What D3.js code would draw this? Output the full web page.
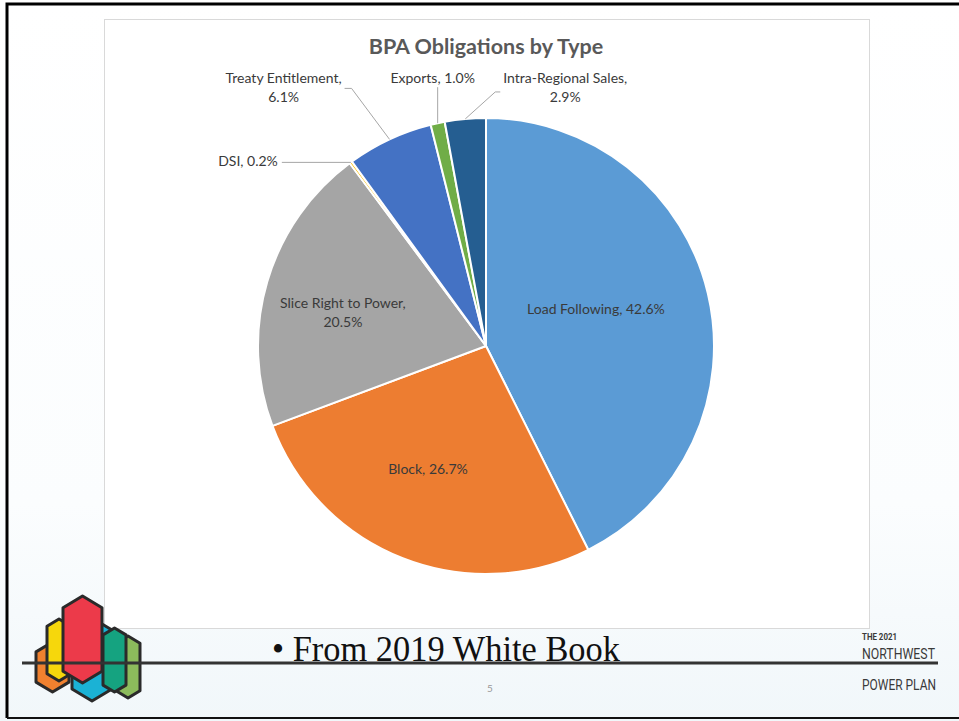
<!DOCTYPE html>
<html>
<head>
<meta charset="utf-8">
<script src="https://cdn.jsdelivr.net/npm/d3@7"></script>
<style>
  body { margin: 0; background: #fff; }
  svg { display: block; }
</style>
</head>
<body>
<svg id="slide" width="959" height="721"></svg>
<script>
// -----------------------
// Data
// -----------------------
const categories = ["Load Following", "Block", "Slice Right to Power", "DSI", "Treaty Entitlement", "Exports", "Intra-Regional Sales"];
const shares = [42.6, 26.7, 20.5, 0.2, 6.1, 1.0, 2.9];
const colors = ["#5b9bd5", "#ed7d31", "#a5a5a5", "#ffc000", "#4472c4", "#70ad47", "#255e91"];

// label text lines (as shown on the slide)
const labelLines = [
  ["Load Following, 42.6%"],
  ["Block, 26.7%"],
  ["Slice Right to Power,", "20.5%"],
  ["DSI, 0.2%"],
  ["Treaty Entitlement,", "6.1%"],
  ["Exports, 1.0%"],
  ["Intra-Regional Sales,", "2.9%"]
];

const svg = d3.select("#slide");
const W = 959, H = 721;

// background
const defs = svg.append("defs");
const grad = defs.append("linearGradient").attr("id", "bg").attr("x1", 0).attr("y1", 0).attr("x2", 0).attr("y2", 1);
grad.append("stop").attr("offset", "0%").attr("stop-color", "#ffffff");
grad.append("stop").attr("offset", "70%").attr("stop-color", "#fbfdfe");
grad.append("stop").attr("offset", "100%").attr("stop-color", "#f1f7fa");
svg.append("rect").attr("width", W).attr("height", H).attr("fill", "url(#bg)");

// slide border
svg.append("path")
  .attr("d", "M7,718 L7,4 L959,4")
  .attr("fill", "none").attr("stroke", "#000").attr("stroke-width", 3);
svg.append("line").attr("x1", 7).attr("x2", 959).attr("y1", 718).attr("y2", 718)
  .attr("stroke", "#111").attr("stroke-width", 2);

// chart box
svg.append("rect")
  .attr("x", 104.5).attr("y", 19.5).attr("width", 765).attr("height", 609)
  .attr("fill", "#fff").attr("stroke", "#d9d9d9");

// title
svg.append("text")
  .attr("x", 486).attr("y", 54)
  .attr("text-anchor", "middle")
  .attr("font-family", "Lato, 'Open Sans', sans-serif")
  .attr("font-weight", "bold")
  .attr("font-size", 21.5)
  .attr("fill", "#595959")
  .text("BPA Obligations by Type");

// -----------------------
// Pie
// -----------------------
const cx = 486, cy = 346, R = 228;
const pieData = d3.pie().sort(null).value(d => d)(shares)
  .map((d, i) => ({ ...d, name: categories[i], color: colors[i], lines: labelLines[i] }));

const arc = d3.arc().innerRadius(0).outerRadius(R);
const edgeArc = d3.arc().innerRadius(R).outerRadius(R);

const g = svg.append("g").attr("transform", `translate(${cx},${cy})`);

g.selectAll(".slice")
  .data(pieData)
  .join("path")
  .attr("class", "slice")
  .attr("d", arc)
  .attr("fill", d => d.color)
  .attr("stroke", "#fff")
  .attr("stroke-width", 2)
  .attr("stroke-linejoin", "round");

// inside labels: radius along mid angle + small nudge
const inside = {
  "Load Following": { r: 113, dx: 0, dy: -10 },
  "Block": { r: 137, dx: -8, dy: -3 },
  "Slice Right to Power": { r: 146, dx: -3, dy: 9 }
};
// outside labels: offsets relative to slice edge point
const outside = {
  "DSI": { dx: -73, dy: 0, anchor: "end", leader: [[-69, 0]] },
  "Treaty Entitlement": { dx: -106, dy: -60, anchor: "middle", leader: [[-45, -51], [-38, -51]] },
  "Exports": { dx: -5, dy: -44, anchor: "middle", leader: [[0, -36]] },
  "Intra-Regional Sales": { dx: 100, dy: -40, anchor: "middle", leader: [[35, -27], [30, -27]] }
};

const fontFam = "Lato, 'Open Sans', sans-serif";
const lineGap = 19;

pieData.forEach(d => {
  let x, y, anchor = "middle";
  if (inside[d.name]) {
    const o = inside[d.name];
    const c = d3.arc().innerRadius(o.r).outerRadius(o.r).centroid(d);
    x = c[0] + o.dx;
    y = c[1] + o.dy - (d.lines.length - 1) * lineGap / 2;
  } else {
    const o = outside[d.name];
    const e = edgeArc.centroid(d);
    x = e[0] + o.dx;
    y = e[1] + o.dy;
    anchor = o.anchor;
    const pts = o.leader.map(p => [e[0] + p[0], e[1] + p[1]]).concat([e]);
    g.append("path")
      .attr("d", d3.line()(pts))
      .attr("fill", "none")
      .attr("stroke", "#a6a6a6")
      .attr("stroke-width", 1);
  }
  const t = g.append("text")
    .attr("text-anchor", anchor)
    .attr("font-family", fontFam)
    .attr("font-size", 14)
    .attr("fill", "#3a3a3a");
  d.lines.forEach((ln, j) => {
    t.append("tspan")
      .attr("x", x)
      .attr("y", y + j * lineGap)
      .attr("dominant-baseline", "middle")
      .text(ln);
  });
});

// -----------------------
// Footer: logo, rule, caption, page number, plan name
// -----------------------
const logoShapes = [
  { x0: 36, x1: 69, top: 642, bot: 692, fill: "#f0812f" },
  { x0: 47, x1: 71, top: 619, bot: 681, fill: "#f6d70c" },
  { x0: 72, x1: 112, top: 618, bot: 701, fill: "#1bb2d5" },
  { x0: 63, x1: 102, top: 596, bot: 683, fill: "#ec3a4a" },
  { x0: 116, x1: 140, top: 636, bot: 698, fill: "#8cbb5c" },
  { x0: 103, x1: 126, top: 628, bot: 692, fill: "#15a380" }
];
const logo = svg.append("g");
logoShapes.forEach(s => {
  const h = (s.x1 - s.x0) * 0.3;
  const xm = (s.x0 + s.x1) / 2;
  const pts = [[s.x0, s.top + h], [xm, s.top], [s.x1, s.top + h], [s.x1, s.bot - h], [xm, s.bot], [s.x0, s.bot - h]];
  logo.append("path")
    .attr("d", d3.line()(pts) + "Z")
    .attr("fill", s.fill)
    .attr("stroke", "#2a2a2a")
    .attr("stroke-width", 3)
    .attr("stroke-linejoin", "round");
});

svg.append("line")
  .attr("x1", 22).attr("x2", 938).attr("y1", 663).attr("y2", 663)
  .attr("stroke", "#333").attr("stroke-width", 3);

svg.append("text")
  .attr("x", 272).attr("y", 661)
  .attr("font-family", "'Liberation Serif', 'DejaVu Serif', serif")
  .attr("font-size", 36)
  .attr("textLength", 348)
  .attr("lengthAdjust", "spacingAndGlyphs")
  .attr("fill", "#111")
  .text("\u2022 From 2019 White Book");

svg.append("text")
  .attr("x", 490).attr("y", 692)
  .attr("text-anchor", "middle")
  .attr("font-family", fontFam)
  .attr("font-size", 10)
  .attr("fill", "#999")
  .text("5");

const brand = svg.append("g").attr("font-family", "Roboto, 'Open Sans', sans-serif").attr("fill", "#3a3a3a");
brand.append("text").attr("x", 862).attr("y", 640).attr("font-size", 9.5).attr("font-weight", "bold")
  .attr("textLength", 35).attr("lengthAdjust", "spacingAndGlyphs").text("THE 2021");
brand.append("text").attr("x", 862).attr("y", 659).attr("font-size", 14.5)
  .attr("textLength", 73).attr("lengthAdjust", "spacingAndGlyphs").text("NORTHWEST");
brand.append("text").attr("x", 862).attr("y", 690).attr("font-size", 14.5)
  .attr("textLength", 74).attr("lengthAdjust", "spacingAndGlyphs").text("POWER PLAN");
</script>
</body>
</html>
